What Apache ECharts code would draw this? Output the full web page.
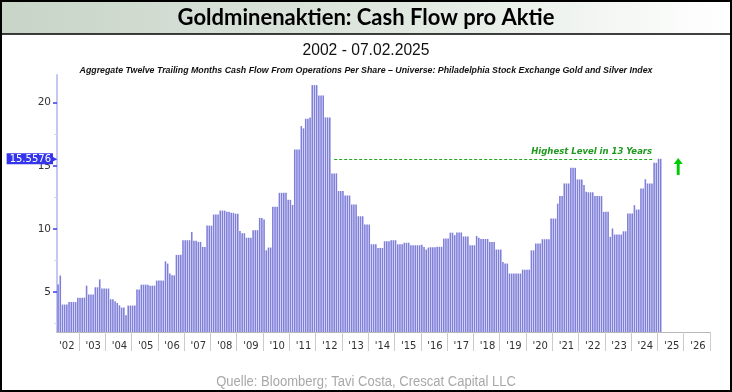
<!DOCTYPE html>
<html><head><meta charset="utf-8">
<script src="https://cdn.jsdelivr.net/npm/echarts@6/dist/echarts.min.js"></script>
<style>html,body{margin:0;padding:0;background:#fff}#c{width:732px;height:392px}</style>
</head><body><div id="c"></div>
<script>
// ---- categories: monthly, Mar 2002 .. Dec 2026 ----
const firstYear = 2002, firstMonth = 3, lastYear = 2026;
const categories = [];
for (let y = firstYear; y <= lastYear; y++) {
  for (let m = (y === firstYear ? firstMonth : 1); m <= 12; m++) {
    categories.push(y + '-' + (m < 10 ? '0' + m : '' + m));
  }
}
// ---- series values (TTM cash flow from operations per share), Mar 2002 .. Feb 2025 ----
const cashFlow = [
  /*2002*/ 5.6, 6.3, 4.0, 4.0, 4.0, 4.2, 4.2, 4.2, 4.2, 4.55,
  /*2003*/ 4.55, 4.55, 4.55, 5.5, 4.8, 4.8, 4.8, 5.37, 5.37, 6.0, 5.27, 5.27,
  /*2004*/ 5.27, 5.27, 4.42, 4.42, 4.26, 4.13, 3.94, 3.76, 3.76, 3.15, 3.92, 3.92,
  /*2005*/ 3.92, 3.92, 5.2, 5.2, 5.58, 5.58, 5.58, 5.58, 5.5, 5.5, 5.5, 5.9,
  /*2006*/ 5.9, 5.9, 5.9, 7.43, 7.25, 6.46, 6.32, 6.32, 7.94, 7.94, 7.94, 9.1,
  /*2007*/ 9.1, 9.1, 9.1, 9.76, 9.05, 9.05, 8.97, 8.97, 8.57, 8.57, 10.26, 10.26,
  /*2008*/ 10.26, 11.14, 11.14, 11.14, 11.45, 11.45, 11.45, 11.35, 11.35, 11.27, 11.27, 11.2,
  /*2009*/ 11.2, 9.84, 9.66, 9.66, 9.3, 9.3, 9.3, 9.9, 9.9, 9.9, 10.87, 10.87,
  /*2010*/ 10.74, 8.3, 8.52, 8.52, 11.75, 11.75, 11.75, 12.86, 12.86, 12.86, 12.86, 12.3,
  /*2011*/ 12.3, 11.9, 16.3, 16.3, 16.3, 18.15, 17.97, 18.73, 18.73, 18.84, 21.4, 21.4,
  /*2012*/ 21.4, 20.58, 20.58, 20.58, 18.84, 18.84, 18.84, 14.4, 14.4, 14.4, 13.0, 13.0,
  /*2013*/ 13.0, 12.65, 12.65, 12.65, 11.93, 11.93, 11.93, 11.0, 11.0, 11.0, 10.34, 10.34,
  /*2014*/ 10.34, 8.78, 8.78, 8.78, 8.49, 8.49, 8.49, 9.02, 9.02, 9.02, 9.1, 9.1,
  /*2015*/ 9.1, 8.78, 8.78, 8.78, 8.9, 8.9, 8.9, 8.7, 8.7, 8.7, 8.7, 8.7,
  /*2016*/ 8.75, 8.57, 8.36, 8.52, 8.55, 8.55, 8.55, 8.58, 8.58, 8.58, 9.23, 9.23,
  /*2017*/ 9.23, 9.7, 9.7, 9.5, 9.72, 9.72, 9.72, 9.4, 9.4, 9.4, 8.7, 8.7,
  /*2018*/ 8.7, 9.44, 9.3, 9.2, 9.2, 9.2, 9.2, 8.97, 8.97, 8.97, 8.36, 8.36,
  /*2019*/ 8.36, 7.38, 7.25, 7.25, 6.46, 6.46, 6.46, 6.46, 6.46, 6.46, 6.77, 6.77,
  /*2020*/ 6.77, 6.77, 8.3, 8.3, 8.84, 8.84, 8.84, 9.18, 9.18, 9.18, 9.18, 10.82,
  /*2021*/ 10.82, 10.82, 12.0, 12.6, 12.6, 13.6, 13.6, 13.6, 14.84, 14.84, 14.84, 13.92,
  /*2022*/ 13.92, 13.92, 13.47, 12.94, 12.9, 12.9, 12.9, 12.6, 12.6, 12.6, 12.6, 11.35,
  /*2023*/ 11.35, 11.35, 9.37, 10.03, 9.55, 9.55, 9.55, 9.55, 9.81, 9.81, 11.22, 11.22,
  /*2024*/ 11.22, 11.88, 11.53, 11.53, 13.2, 13.2, 13.94, 13.6, 13.6, 13.6, 15.24, 15.24,
  /*2025*/ 15.5576, 15.5576
];
// ---- axis ticks ----
const yMajorTicks = [5, 10, 15, 20];
const yMinorTicks = [2.5, 7.5, 12.5, 17.5];
const yMin = 1.825, yMax = 22.2;
// ---- annotations ----
const latestValue = 15.5576;
const refLineFrom = '2012-09', refLineTo = '2024-11';
const refLineText = 'Highest Level in 13 Years';
const arrowCategory = '2025-10', arrowValue = 14.94;
const titleText = 'Goldminenaktien: Cash Flow pro Aktie';
const subTitleText = '2002 - 07.02.2025';
const chartCaption = 'Aggregate Twelve Trailing Months Cash Flow From Operations Per Share \u2013 Universe: Philadelphia Stock Exchange Gold and Silver Index';
const sourceText = 'Quelle: Bloomberg; Tavi Costa, Crescat Capital LLC';

const chart = echarts.init(document.getElementById('c'), null, {renderer: 'canvas'});
chart.setOption({
  animation: false,
  backgroundColor: '#ffffff',
  grid: {left: 57, right: 22, top: 75, bottom: 60, containLabel: false},
  graphic: [
    {type: 'rect', shape: {x: 0, y: 0, width: 732, height: 34}, z: 0,
      style: {fill: new echarts.graphic.LinearGradient(0, 0, 1, 0, [
        {offset: 0, color: '#c8d4c8'}, {offset: 0.55, color: '#e0e8e0'}, {offset: 1, color: '#ffffff'}])}},
    {type: 'line', shape: {x1: 0, y1: 34, x2: 732, y2: 34}, style: {stroke: '#000', lineWidth: 1.5}, z: 5},
    {type: 'rect', shape: {x: 1, y: 1, width: 730, height: 390}, style: {fill: 'none', stroke: '#000', lineWidth: 2}, z: 10},
    {type: 'text', x: 366, y: 18, z: 6, style: {text: titleText, fill: '#000', font: "bold 22px Lato, 'Open Sans', sans-serif", textAlign: 'center', textVerticalAlign: 'middle'}},
    {type: 'text', x: 366, y: 50, z: 6, scaleX: 0.92, style: {text: subTitleText, fill: '#111', font: "17px 'Liberation Sans', sans-serif", textAlign: 'center', textVerticalAlign: 'middle'}},
    {type: 'text', x: 366, y: 71, z: 6, style: {text: chartCaption, fill: '#111', font: "italic bold 8.8px 'Liberation Sans', sans-serif", textAlign: 'center', textVerticalAlign: 'middle'}},
    {type: 'text', x: 366, y: 382, z: 6, scaleX: 0.93, style: {text: sourceText, fill: '#a8a8a8', font: "14px 'Liberation Sans', sans-serif", textAlign: 'center', textVerticalAlign: 'middle'}}
  ],
  xAxis: {
    type: 'category', data: categories, boundaryGap: true,
    axisLine: {show: true, lineStyle: {color: '#b8b8b8', width: 1}},
    axisTick: {show: true, interval: (i, v) => v.slice(5) === '01', length: 19, lineStyle: {color: '#cccccc', width: 1}},
    axisLabel: {interval: (i, v) => v.slice(5) === '07', formatter: v => "'" + v.slice(2, 4),
      color: '#333', fontSize: 10, fontFamily: 'DejaVu Sans', margin: 9},
    splitLine: {show: false}
  },
  yAxis: [
    {type: 'value', min: yMin, max: yMax, position: 'left',
      axisLine: {show: true, lineStyle: {color: '#c4c7ef', width: 2}},
      axisTick: {show: true, customValues: yMajorTicks, length: 4, lineStyle: {color: '#3b3bf0', width: 1.5}},
      axisLabel: {customValues: yMajorTicks, color: '#333', fontSize: 10.5, fontFamily: 'DejaVu Sans', margin: 6},
      splitLine: {show: false}},
    {type: 'value', min: yMin, max: yMax, position: 'left', offset: 0,
      axisLine: {show: false},
      axisTick: {show: true, customValues: yMinorTicks, length: 3, lineStyle: {color: '#d6d6ee', width: 1}},
      axisLabel: {customValues: [latestValue], margin: 0, formatter: v => '{b|' + v + '}{t|\u25B6}',
        rich: {b: {backgroundColor: '#3434ea', color: '#fff', fontSize: 10, fontFamily: 'DejaVu Sans', padding: [1, 2, 0, 3], lineHeight: 11},
               t: {color: '#3434ea', fontSize: 7, padding: [0, 0, 0, -1]}}},
      splitLine: {show: false}}
  ],
  series: [{
    type: 'bar', data: cashFlow, yAxisIndex: 0, barCategoryGap: '28%',
    itemStyle: {color: '#7f7fda'},
    markLine: {symbol: 'none', silent: true,
      lineStyle: {color: '#22a622', type: [3, 2], width: 1.2, opacity: 1},
      emphasis: {disabled: true},
      label: {show: true, position: 'insideEndTop', formatter: refLineText, color: '#1f9a1f',
        fontStyle: 'italic', fontWeight: 'bold', fontSize: 8.5, fontFamily: 'DejaVu Sans', distance: 2},
      data: [[{coord: [refLineFrom, latestValue]}, {coord: [refLineTo, latestValue]}]]},
    markPoint: {silent: true, data: [{coord: [arrowCategory, arrowValue],
      symbol: 'path://M5,0 L10,6 L6.6,6 L6.6,17 L3.4,17 L3.4,6 L0,6 Z', symbolSize: [9, 17],
      itemStyle: {color: '#00cc00'}, label: {show: false}}]}
  }]
});
</script></body></html>
